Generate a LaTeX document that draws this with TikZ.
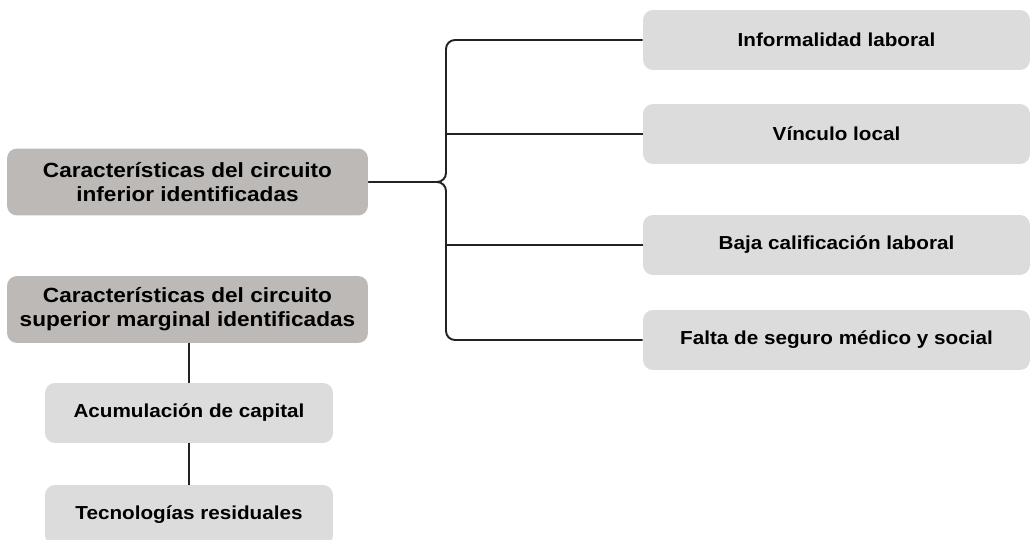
\documentclass[tikz,border=0pt]{standalone}
\usepackage{fontspec}
\newfontfamily\boxfont{Liberation Sans}[FakeStretch=1.1]
\usepackage{tikz}
\usetikzlibrary{positioning}
\definecolor{darkbox}{HTML}{BDB9B7}
\definecolor{lightbox}{HTML}{DCDCDC}
\definecolor{linecol}{HTML}{222222}
\tikzset{
	mainbox/.style={fill=darkbox, rounded corners=0.2cm, minimum width=7.22cm, minimum height=1.34cm, align=center, font=\boxfont\bfseries\fontsize{11.7}{13.6}\selectfont, inner sep=0pt},
	itembox/.style={fill=lightbox, rounded corners=0.2cm, minimum width=7.74cm, minimum height=1.2cm, align=center, font=\boxfont\bfseries\fontsize{10.7}{13}\selectfont, inner sep=0pt},
	subbox/.style={itembox, minimum width=5.76cm},
	link/.style={draw=linecol, line width=1.1pt}
}

\begin{document}
\begin{tikzpicture}[x=0.02cm, y=-0.02cm]
			%%%%% START %%%%%
			
			\useasboundingbox (0, 0) rectangle (1032, 540);
			
			\node[mainbox] (inferior) at (187.5, 182) {Características del circuito\\inferior identificadas};
			\node[mainbox] (superior) at (187.5, 309.5) {Características del circuito\\superior marginal identificadas};
			
			\node[itembox] (informal) at (836.5, 40) {Informalidad laboral};
			\node[itembox] (vinculo) at (836.5, 134) {Vínculo local};
			\node[itembox] (baja) at (836.5, 245) {Baja calificación laboral};
			\node[itembox] (seguro) at (836.5, 340) {Falta de seguro médico y social};
			
			\node[subbox] (capital) at (189, 413) {Acumulación de capital};
			\node[subbox] (tecno) at (189, 515) {Tecnologías residuales};
			
			\coordinate (spine) at (446, 182);
			
			\draw[link, rounded corners=0.18cm] (informal.west) -| (spine) -- (inferior.east);
			\draw[link, rounded corners=0.18cm] (seguro.west) -| (spine) -- (inferior.east);
			\draw[link] (vinculo.west) -- (vinculo.west -| spine);
			\draw[link] (baja.west) -- (baja.west -| spine);
			
			\draw[link] (superior.south -| capital) -- (capital.north);
			\draw[link] (capital.south) -- (tecno.north);
			
			%%%%% END %%%%%
		\end{tikzpicture}
\end{document}
